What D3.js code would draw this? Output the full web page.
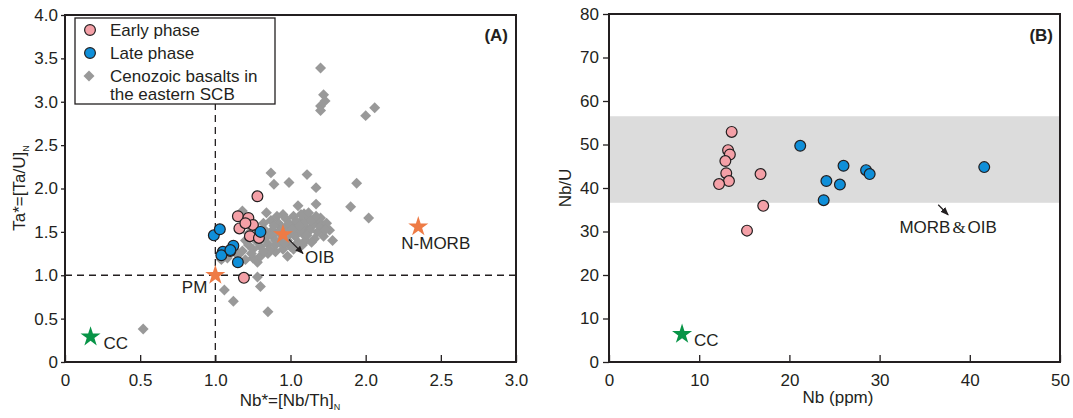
<!DOCTYPE html>
<html>
<head>
<meta charset="utf-8">
<script src="https://cdn.jsdelivr.net/npm/d3@7"></script>
<style>
  body { margin: 0; background: #fff; }
  svg { font-family: "Liberation Sans", Arial, sans-serif; }
</style>
</head>
<body>
<svg id="chart" width="1073" height="418"></svg>
<script>
// ---- data: panel A (Nb* vs Ta*) ----
var earlyA = [[1.28,1.91],[1.15,1.68],[1.22,1.66],[1.16,1.54],[1.25,1.58],[1.20,1.60],
  [1.23,1.45],[1.29,1.43],[1.10,1.28],[1.19,0.97]];
var lateA = [[0.99,1.46],[1.03,1.53],[1.05,1.27],[1.04,1.23],[1.12,1.34],[1.10,1.29],
  [1.15,1.15],[1.30,1.50]];
var basaltA = [
  [1.70,3.39],[1.72,3.08],[1.73,3.01],[1.70,2.95],[1.70,2.90],[2.06,2.93],[2.00,2.84],
  [1.37,2.18],[1.39,2.05],[1.49,2.07],[1.61,2.16],[1.67,2.01],[1.94,2.06],[1.55,1.80],
  [1.67,1.82],[1.90,1.79],[2.02,1.66],[1.59,1.71],[1.69,1.62],[1.70,1.66],
  [1.28,1.15],[1.28,0.98],[1.30,0.87],[1.06,0.83],[1.12,0.70],[1.35,0.58],[1.04,1.18],
  [0.52,0.38],[1.15,1.23],[1.08,1.20],
  [1.18,1.28],[1.22,1.35],[1.25,1.30],[1.28,1.38],[1.30,1.33],[1.33,1.42],[1.35,1.36],
  [1.38,1.45],[1.40,1.40],[1.42,1.50],[1.45,1.44],[1.47,1.55],[1.50,1.48],[1.52,1.58],
  [1.55,1.52],[1.57,1.62],[1.60,1.55],[1.62,1.65],[1.65,1.58],[1.68,1.50],[1.70,1.56],
  [1.72,1.45],[1.66,1.42],[1.60,1.40],[1.55,1.38],[1.50,1.33],[1.45,1.30],[1.40,1.27],
  [1.35,1.25],[1.30,1.22],[1.25,1.20],[1.20,1.18],[1.15,1.25],[1.22,1.48],[1.27,1.55],
  [1.32,1.60],[1.37,1.63],[1.42,1.60],[1.47,1.65],[1.52,1.68],[1.57,1.70],[1.62,1.72],
  [1.38,1.52],[1.43,1.38],[1.48,1.40],[1.53,1.45],[1.58,1.48],[1.63,1.52],[1.35,1.48],
  [1.30,1.50],[1.26,1.45],[1.44,1.56],[1.49,1.60],[1.54,1.62],[1.59,1.60],[1.64,1.63],
  [1.40,1.35],[1.36,1.30],[1.32,1.27],[1.45,1.70],[1.74,1.60],[1.76,1.52],[1.78,1.40],
  [1.52,1.30],[1.58,1.35],[1.20,1.40],[1.24,1.25],[1.33,1.52],[1.39,1.57],[1.46,1.37],
  [1.51,1.53],[1.56,1.57],[1.61,1.46],[1.67,1.68],[1.73,1.52],[1.34,1.72],[1.41,1.68],
  [1.18,1.74],[1.48,1.22],[1.64,1.38]
];
var refA = [
  {name: 'CC', nb: 0.17, ta: 0.29},
  {name: 'PM', nb: 1.0, ta: 1.0},
  {name: 'OIB', nb: 1.45, ta: 1.47},
  {name: 'N-MORB', nb: 2.35, ta: 1.56}
];
var xTicksA = [0, 0.5, 1.0, 1.5, 2.0, 2.5, 3.0];
var xTickLabelsA = ['0', '0.5', '1.0', '1.0', '2.0', '2.5', '3.0'];
var yTicksA = [0, 0.5, 1.0, 1.5, 2.0, 2.5, 3.0, 3.5, 4.0];
var yTickLabelsA = ['0', '0.5', '1.0', '1.5', '2.0', '2.5', '3.0', '3.5', '4.0'];

// ---- data: panel B (Nb vs Nb/U) ----
var earlyB = [[13.6,52.9],[13.2,48.7],[13.4,47.7],[12.9,46.2],[13.0,43.4],[13.3,41.6],
  [12.2,40.9],[16.8,43.2],[17.1,35.9],[15.3,30.2]];
var lateB = [[21.2,49.7],[26.0,45.1],[28.5,44.1],[28.9,43.2],[24.1,41.6],[25.6,40.8],
  [23.8,37.2],[41.6,44.8]];
var ccB = [8.1, 6.4];
var morbOibBand = [36.6, 56.5];
var xTicksB = [0, 10, 20, 30, 40, 50];
var yTicksB = [0, 10, 20, 30, 40, 50, 60, 70, 80];

var ink = '#231f20';
var pink = '#f4a0a7';
var blue = '#0f8fd9';
var grey = '#999999';
var orange = '#ee7b45';
var green = '#089447';

var svg = d3.select('#chart');
svg.append('defs').append('marker')
  .attr('id', 'arrow')
  .attr('viewBox', '0 0 10 10')
  .attr('refX', 9).attr('refY', 5)
  .attr('markerWidth', 7).attr('markerHeight', 7)
  .attr('orient', 'auto')
  .append('path')
  .attr('d', 'M0,1 L10,5 L0,9 Z')
  .attr('fill', ink);

var star = d3.symbol().type(d3.symbolStar).size(125);
var diamond = d3.symbol().type(d3.symbolSquare).size(60);

function styleAxis(g) {
  g.select('.domain').remove();
  g.selectAll('line').attr('stroke', ink).attr('stroke-width', 1.3);
  g.selectAll('text').attr('fill', ink).attr('font-size', 17)
    .attr('font-family', '"Liberation Sans", Arial, sans-serif');
}

//Panel A
var xA = d3.scaleLinear().domain([0, 3]).range([65, 516]);
var yA = d3.scaleLinear().domain([0, 4]).range([362, 15]);
var gA = svg.append('g');

// dashed reference lines
gA.append('line')
  .attr('x1', xA(1)).attr('x2', xA(1)).attr('y1', yA(0)).attr('y2', yA(4))
  .attr('stroke', ink).attr('stroke-width', 1.3).attr('stroke-dasharray', '7,5');
gA.append('line')
  .attr('x1', xA(0)).attr('x2', xA(3)).attr('y1', yA(1)).attr('y2', yA(1))
  .attr('stroke', ink).attr('stroke-width', 1.3).attr('stroke-dasharray', '7,5');

gA.selectAll('.basalt')
  .data(basaltA)
  .enter()
  .append('path')
  .attr('class', 'basalt')
  .attr('d', diamond)
  .attr('transform', function(d) {
    return 'translate(' + xA(d[0]) + ',' + yA(d[1]) + ') rotate(45)';
  })
  .attr('fill', grey);

gA.selectAll('.early')
  .data(earlyA)
  .enter()
  .append('circle')
  .attr('class', 'early')
  .attr('cx', function(d) { return xA(d[0]); })
  .attr('cy', function(d) { return yA(d[1]); })
  .attr('r', 5.4)
  .attr('fill', pink).attr('stroke', ink).attr('stroke-width', 1.2);

gA.selectAll('.late')
  .data(lateA)
  .enter()
  .append('circle')
  .attr('class', 'late')
  .attr('cx', function(d) { return xA(d[0]); })
  .attr('cy', function(d) { return yA(d[1]); })
  .attr('r', 5.4)
  .attr('fill', blue).attr('stroke', ink).attr('stroke-width', 1.2);

// reference stars + labels
gA.selectAll('.ref')
  .data(refA)
  .enter()
  .append('path')
  .attr('class', 'ref')
  .attr('d', star)
  .attr('transform', function(d) { return 'translate(' + xA(d.nb) + ',' + yA(d.ta) + ')'; })
  .attr('fill', function(d) { return d.name == 'CC' ? green : orange; });

var labelOffsets = {'CC': [13, 12, 'start'], 'PM': [-8, 18, 'end'], 'OIB': [22, 29, 'start'],
  'N-MORB': [-17, 22, 'start']};
gA.selectAll('.refLabel')
  .data(refA)
  .enter()
  .append('text')
  .attr('x', function(d) { return xA(d.nb) + labelOffsets[d.name][0]; })
  .attr('y', function(d) { return yA(d.ta) + labelOffsets[d.name][1]; })
  .attr('text-anchor', function(d) { return labelOffsets[d.name][2]; })
  .attr('font-size', 17)
  .attr('fill', ink)
  .text(function(d) { return d.name; });

// OIB arrow
gA.append('line')
  .attr('x1', xA(1.45) + 6).attr('y1', yA(1.47) + 5)
  .attr('x2', xA(1.45) + 20).attr('y2', yA(1.47) + 19)
  .attr('stroke', ink).attr('stroke-width', 1.2)
  .attr('marker-end', 'url(#arrow)');

gA.append('g')
  .attr('transform', 'translate(0,' + yA(0) + ')')
  .call(d3.axisBottom(xA).tickValues(xTicksA).tickSizeInner(-7).tickSizeOuter(0).tickPadding(12)
    .tickFormat(function(d, i) { return xTickLabelsA[i]; }))
  .call(styleAxis);
gA.append('g')
  .attr('transform', 'translate(' + xA(0) + ',0)')
  .call(d3.axisLeft(yA).tickValues(yTicksA).tickSizeInner(4).tickSizeOuter(0).tickPadding(3)
    .tickFormat(function(d, i) { return yTickLabelsA[i]; }))
  .call(styleAxis);

// legend
var legend = gA.append('g');
legend.append('rect')
  .attr('x', 75).attr('y', 18).attr('width', 200).attr('height', 86)
  .attr('fill', '#fff').attr('stroke', ink).attr('stroke-width', 1.3);
legend.append('circle').attr('cx', 90).attr('cy', 30).attr('r', 5.4)
  .attr('fill', pink).attr('stroke', ink).attr('stroke-width', 1.2);
legend.append('circle').attr('cx', 90).attr('cy', 53).attr('r', 5.4)
  .attr('fill', blue).attr('stroke', ink).attr('stroke-width', 1.2);
legend.append('path').attr('d', diamond)
  .attr('transform', 'translate(89,76) rotate(45)').attr('fill', grey);
var legendText = [['Early phase', 36], ['Late phase', 59], ['Cenozoic basalts in', 82], ['the eastern SCB', 100]];
legend.selectAll('.lt')
  .data(legendText)
  .enter()
  .append('text')
  .attr('x', 110)
  .attr('y', function(d) { return d[1]; })
  .attr('font-size', 17)
  .attr('fill', ink)
  .text(function(d) { return d[0]; });

gA.append('rect')
  .attr('x', xA(0)).attr('y', yA(4)).attr('width', xA(3) - xA(0)).attr('height', yA(0) - yA(4))
  .attr('fill', 'none').attr('stroke', ink).attr('stroke-width', 2);

gA.append('text').attr('x', 508).attr('y', 41).attr('text-anchor', 'end')
  .attr('font-size', 17).attr('font-weight', 'bold').attr('fill', ink).text('(A)');

var xTitleA = gA.append('text').attr('x', 290).attr('y', 406).attr('text-anchor', 'middle')
  .attr('font-size', 17).attr('fill', ink);
xTitleA.append('tspan').text('Nb*=[Nb/Th]');
xTitleA.append('tspan').attr('font-size', 9).attr('dy', 4).text('N');

var yTitleA = gA.append('text').attr('transform', 'translate(25,188) rotate(-90)')
  .attr('text-anchor', 'middle').attr('font-size', 17).attr('fill', ink);
yTitleA.append('tspan').text('Ta*=[Ta/U]');
yTitleA.append('tspan').attr('font-size', 9).attr('dy', 4).text('N');

//Panel B
var xB = d3.scaleLinear().domain([0, 50]).range([609, 1060]);
var yB = d3.scaleLinear().domain([0, 80]).range([362, 14]);
var gB = svg.append('g');

gB.append('rect')
  .attr('x', xB(0)).attr('width', xB(50) - xB(0))
  .attr('y', yB(morbOibBand[1])).attr('height', yB(morbOibBand[0]) - yB(morbOibBand[1]))
  .attr('fill', '#dcdcdc');

gB.selectAll('.early')
  .data(earlyB)
  .enter()
  .append('circle')
  .attr('cx', function(d) { return xB(d[0]); })
  .attr('cy', function(d) { return yB(d[1]); })
  .attr('r', 5.4)
  .attr('fill', pink).attr('stroke', ink).attr('stroke-width', 1.2);

gB.selectAll('.late')
  .data(lateB)
  .enter()
  .append('circle')
  .attr('cx', function(d) { return xB(d[0]); })
  .attr('cy', function(d) { return yB(d[1]); })
  .attr('r', 5.4)
  .attr('fill', blue).attr('stroke', ink).attr('stroke-width', 1.2);

gB.append('path').attr('d', star)
  .attr('transform', 'translate(' + xB(ccB[0]) + ',' + yB(ccB[1]) + ')')
  .attr('fill', green);
gB.append('text').attr('x', xB(ccB[0]) + 12).attr('y', yB(ccB[1]) + 12)
  .attr('font-size', 17).attr('fill', ink).text('CC');

// MORB & OIB label + arrow
gB.append('line')
  .attr('x1', xB(36.5)).attr('y1', yB(morbOibBand[0]) + 2)
  .attr('x2', xB(37.6)).attr('y2', yB(morbOibBand[0]) + 12)
  .attr('stroke', ink).attr('stroke-width', 1.2)
  .attr('marker-end', 'url(#arrow)');
var morbLabel = gB.append('text').attr('x', xB(37.6)).attr('y', yB(morbOibBand[0]) + 30)
  .attr('text-anchor', 'middle').attr('font-size', 17).attr('fill', ink);
morbLabel.append('tspan').text('MORB');
morbLabel.append('tspan').attr('font-family', '"Liberation Serif", serif').attr('dx', 2).text('&');
morbLabel.append('tspan').attr('dx', 2).text('OIB');

gB.append('g')
  .attr('transform', 'translate(0,' + yB(0) + ')')
  .call(d3.axisBottom(xB).tickValues(xTicksB).tickSizeInner(-7).tickSizeOuter(0).tickPadding(12))
  .call(styleAxis);
gB.append('g')
  .attr('transform', 'translate(' + xB(0) + ',0)')
  .call(d3.axisLeft(yB).tickValues(yTicksB).tickSizeInner(6).tickSizeOuter(0).tickPadding(4))
  .call(styleAxis);

gB.append('rect')
  .attr('x', xB(0)).attr('y', yB(80)).attr('width', xB(50) - xB(0)).attr('height', yB(0) - yB(80))
  .attr('fill', 'none').attr('stroke', ink).attr('stroke-width', 2);

gB.append('text').attr('x', 1053).attr('y', 41).attr('text-anchor', 'end')
  .attr('font-size', 17).attr('font-weight', 'bold').attr('fill', ink).text('(B)');

gB.append('text').attr('x', 838).attr('y', 403).attr('text-anchor', 'middle')
  .attr('font-size', 17).attr('fill', ink).text('Nb (ppm)');
gB.append('text').attr('transform', 'translate(571,188) rotate(-90)')
  .attr('text-anchor', 'middle').attr('font-size', 17).attr('fill', ink).text('Nb/U');
</script>
</body>
</html>
